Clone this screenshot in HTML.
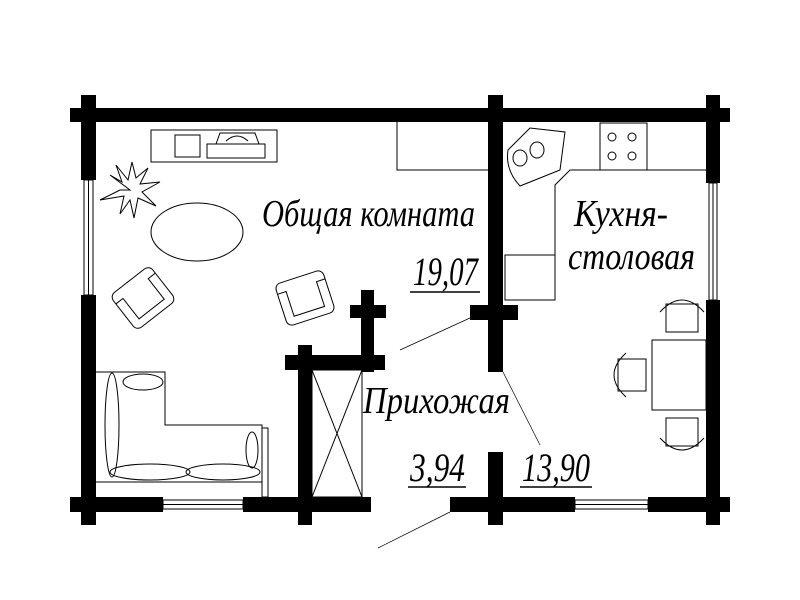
<!DOCTYPE html>
<html><head><meta charset="utf-8"><style>
html,body{margin:0;padding:0;background:#fff;}
svg{display:block;}
text{font-family:"Liberation Serif",serif;font-style:italic;fill:#000;}
</style></head><body>
<svg width="800" height="600" viewBox="0 0 800 600" xmlns="http://www.w3.org/2000/svg">
<rect width="800" height="600" fill="#fff"/>
<g fill="#000">
<rect x="70" y="108" width="660" height="14"/>
<rect x="81" y="95" width="15" height="85"/>
<rect x="81" y="295" width="15" height="230"/>
<rect x="488" y="95" width="15" height="277"/>
<rect x="706" y="95" width="14" height="88"/>
<rect x="706" y="300" width="14" height="225"/>
<rect x="70" y="497" width="93" height="15"/>
<rect x="243" y="497" width="128" height="15"/>
<rect x="450" y="497" width="125" height="15"/>
<rect x="648" y="497" width="82" height="15"/>
<rect x="361" y="290" width="13" height="82"/>
<rect x="350" y="305" width="36" height="13"/>
<rect x="285" y="355" width="100" height="15"/>
<rect x="298" y="345" width="14" height="180"/>
<rect x="470" y="305" width="48" height="15"/>
<rect x="488" y="452" width="15" height="73"/>
</g>
<g fill="none" stroke="#000" stroke-width="1">
<rect x="84" y="180" width="9" height="115"/><line x1="88.5" y1="180" x2="88.5" y2="295"/>
<rect x="709" y="183" width="8" height="117"/><line x1="713" y1="183" x2="713" y2="300"/>
<rect x="163" y="500" width="80" height="9"/><line x1="163" y1="504.5" x2="243" y2="504.5"/>
<rect x="575" y="500" width="73" height="9"/><line x1="575" y1="504.5" x2="648" y2="504.5"/>
<rect x="151" y="130" width="126" height="32"/>
<rect x="175" y="135" width="25" height="22"/>
<rect x="207" y="144" width="58" height="14"/>
<path d="M216 144 L220 133 L255 133 L259 144"/>
<path d="M226 141 Q237 131 248 141"/>
<path d="M397 122 L397 170 L488 170"/>
<g transform="translate(130,190)">
<path d="M0 0 L-20 -15 L-8 -8 L-14 -25 L-2 -10 L2 -28 L6 -12 L18 -22 L10 -6 L30 -8 L12 2 L26 16 L8 8 L4 28 L0 10 L-10 24 L-6 6 L-30 10 L-10 0 Z"/>
</g>
<ellipse cx="197" cy="232" rx="46" ry="29"/>
<g transform="translate(143,298) rotate(-38)">
<rect x="-25" y="-22" width="50" height="44" rx="6"/>
<path d="M-25 -12 L-16 -12 L-16 14 L16 14 L16 -12 L25 -12"/>
</g>
<g transform="translate(305,298) rotate(-18)">
<rect x="-25" y="-22" width="50" height="44" rx="6"/>
<path d="M-25 -12 L-16 -12 L-16 14 L16 14 L16 -12 L25 -12"/>
</g>
<path d="M96 372 L165 372 L165 425 L262 425 L262 497 M96 482 L262 482"/>
<rect x="262" y="428" width="6" height="69"/>
<ellipse cx="112" cy="425" rx="7" ry="52"/>
<ellipse cx="143" cy="382" rx="20" ry="8"/>
<ellipse cx="150" cy="472" rx="40" ry="8"/>
<ellipse cx="223" cy="472" rx="37" ry="8"/>
<ellipse cx="252" cy="450" rx="6" ry="18"/>
<rect x="312" y="370" width="50" height="127"/>
<line x1="312" y1="370" x2="362" y2="497"/><line x1="362" y1="370" x2="312" y2="497"/>
<line x1="470" y1="318" x2="400" y2="350" stroke-width="0.7"/>
<line x1="503" y1="372" x2="540" y2="445" stroke-width="0.7"/>
<line x1="450" y1="512" x2="378" y2="548" stroke-width="0.7"/>
<path d="M508 150 L530 128 L565 132 L560 170 L520 186 Q505 170 508 150 Z"/>
<ellipse cx="520" cy="158" rx="7" ry="8"/><ellipse cx="537" cy="150" rx="7" ry="8"/>
<rect x="600" y="123" width="47" height="47"/>
<circle cx="612" cy="137" r="4"/><circle cx="632" cy="137" r="4"/><circle cx="612" cy="156" r="4"/><circle cx="632" cy="156" r="4"/>
<path d="M706 170 L570 170 L555 185 L555 300"/>
<rect x="505" y="255" width="50" height="45"/>
<rect x="652" y="340" width="54" height="70"/>
<g transform="translate(682,318)"><rect x="-16" y="-14" width="32" height="28"/><path d="M-22 -6 Q0 -30 22 -6"/></g>
<g transform="translate(682,432)"><rect x="-16" y="-14" width="32" height="28"/><path d="M-22 6 Q0 30 22 6"/></g>
<g transform="translate(632,375)"><rect x="-14" y="-16" width="28" height="32"/><path d="M-6 -22 Q-30 0 -6 22"/></g>
<line x1="410" y1="292" x2="480" y2="292" stroke-width="1.5"/>
<line x1="408" y1="487" x2="466" y2="487" stroke-width="1.5"/>
<line x1="520" y1="487" x2="592" y2="487" stroke-width="1.5"/>
</g>
<text x="262" y="226" font-size="38" textLength="213" lengthAdjust="spacingAndGlyphs">Общая комната</text>
<text x="413" y="285" font-size="40" textLength="65" lengthAdjust="spacingAndGlyphs">19,07</text>
<text x="363" y="413" font-size="38" textLength="147" lengthAdjust="spacingAndGlyphs">Прихожая</text>
<text x="410" y="481" font-size="40" textLength="55" lengthAdjust="spacingAndGlyphs">3,94</text>
<text x="522" y="481" font-size="40" textLength="68" lengthAdjust="spacingAndGlyphs">13,90</text>
<text x="574" y="226" font-size="38" textLength="94" lengthAdjust="spacingAndGlyphs">Кухня-</text>
<text x="568" y="269" font-size="38" textLength="127" lengthAdjust="spacingAndGlyphs">столовая</text>
</svg>
</body></html>
